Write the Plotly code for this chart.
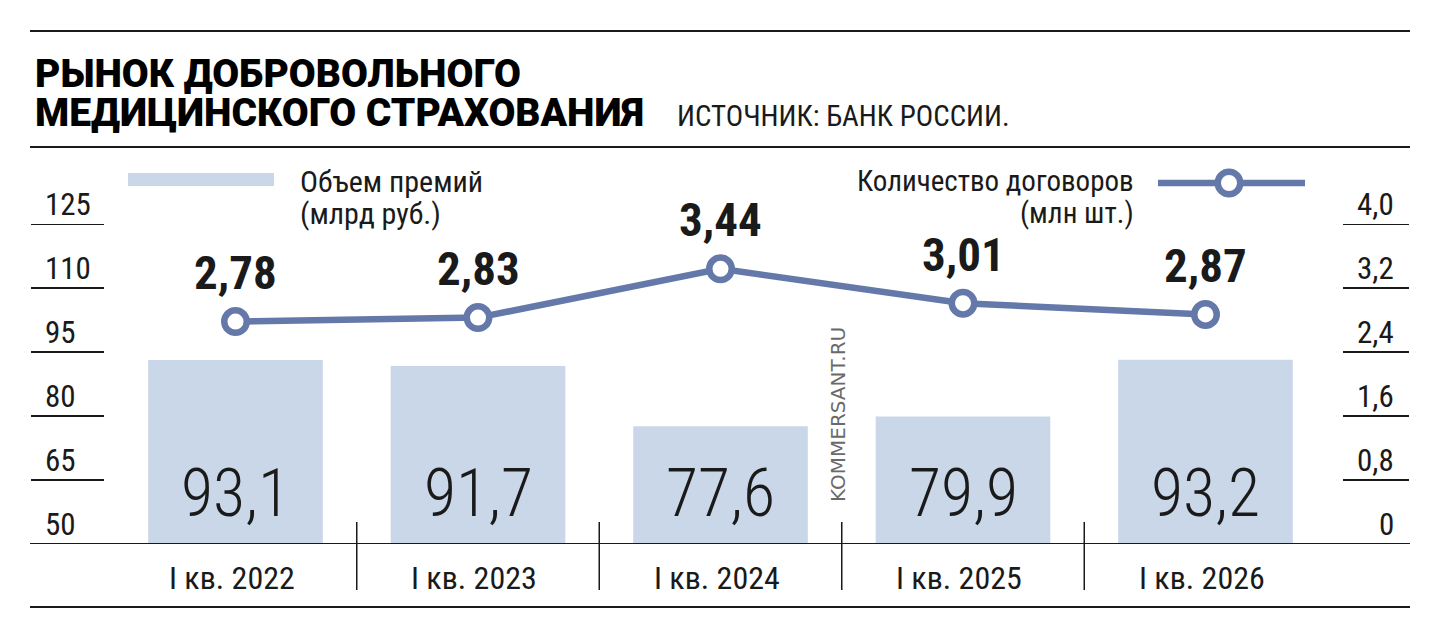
import plotly.graph_objects as go

# ---------------- data ----------------
categories = ["I кв. 2022", "I кв. 2023", "I кв. 2024", "I кв. 2025", "I кв. 2026"]
premiums = [93.1, 91.7, 77.6, 79.9, 93.2]          # млрд руб.
contracts = [2.78, 2.83, 3.44, 3.01, 2.87]         # млн шт.
left_ticks = [50, 65, 80, 95, 110, 125]
right_ticks = [0, 0.8, 1.6, 2.4, 3.2, 4.0]
right_tick_labels = ["0", "0,8", "1,6", "2,4", "3,2", "4,0"]

title_lines = ["РЫНОК ДОБРОВОЛЬНОГО", "МЕДИЦИНСКОГО СТРАХОВАНИЯ"]
source_text = "ИСТОЧНИК: БАНК РОССИИ."
legend_bar = ["Объем премий", "(млрд руб.)"]
legend_line = ["Количество договоров", "(млн шт.)"]

# ---------------- style ----------------
W, H = 1440, 638
BAR_C = "#c9d7e8"
LINE_C = "#6479a9"
INK = "#1a1a1a"
COND = "Roboto Condensed, DejaVu Sans Condensed, sans-serif"


def f_label(size, weight="normal", family=COND, color=INK):
    return dict(family=family, size=size, color=color, weight=weight)


def px_x(x):
    return x / W


def px_y(y):
    return 1 - y / H


fig = go.Figure()

fig.add_trace(go.Bar(
    x=categories, y=premiums, marker=dict(color=BAR_C, line=dict(width=0)),
    width=0.72, yaxis="y", hoverinfo="skip", showlegend=False,
))
fig.add_trace(go.Scatter(
    x=categories, y=contracts, yaxis="y2", mode="lines+markers",
    line=dict(color=LINE_C, width=6.5),
    marker=dict(size=22.5, color="white", line=dict(color=LINE_C, width=6.5)),
    cliponaxis=False, hoverinfo="skip", showlegend=False,
))

annotations = []
shapes = []

# bar value labels
for c, v in zip(categories, premiums):
    annotations.append(dict(
        x=c, y=left_ticks[0], xref="x", yref="y", text=f"{v:.1f}".replace(".", ","),
        showarrow=False, yanchor="middle", yshift=51,
        font=f_label(66, weight=300)))

# line value labels
for c, v in zip(categories, contracts):
    annotations.append(dict(
        x=c, y=v, xref="x", yref="y2", text=f"{v:.2f}".replace(".", ","),
        showarrow=False, yanchor="middle", yshift=49,
        font=f_label(47, weight="bold")))

# category labels
for c in categories:
    annotations.append(dict(
        x=c, y=px_y(578), xref="x", yref="paper", text=c, showarrow=False,
        yanchor="middle", xshift=-4, font=f_label(32)))

# separators between categories
for k in range(len(categories) - 1):
    shapes.append(dict(type="line", xref="x", yref="paper", x0=k + 0.5, x1=k + 0.5,
                       y0=px_y(522), y1=px_y(590), line=dict(color=INK, width=1.5)))

# left axis ticks
for t in left_ticks:
    annotations.append(dict(
        x=px_x(43), y=t, xref="paper", yref="y", text=str(t), showarrow=False,
        xanchor="left", yanchor="bottom", yshift=-1, font=f_label(31)))
    if t != left_ticks[0]:
        shapes.append(dict(type="line", xref="paper", yref="y", x0=px_x(31), x1=px_x(104),
                           y0=t, y1=t, line=dict(color=INK, width=2)))

# right axis ticks
for t, lab in zip(right_ticks, right_tick_labels):
    annotations.append(dict(
        x=px_x(1396), y=t, xref="paper", yref="y2", text=lab, showarrow=False,
        xanchor="right", yanchor="bottom", yshift=-1, font=f_label(31)))
    if t != right_ticks[0]:
        shapes.append(dict(type="line", xref="paper", yref="y2", x0=px_x(1343), x1=px_x(1409),
                           y0=t, y1=t, line=dict(color=INK, width=2)))

# horizontal frame lines
for yy in (31, 147, 607):
    shapes.append(dict(type="line", xref="paper", yref="paper", x0=px_x(30), x1=px_x(1410),
                       y0=px_y(yy), y1=px_y(yy), line=dict(color=INK, width=2)))
shapes.append(dict(type="line", xref="paper", yref="y", x0=px_x(30), x1=px_x(1410),
                   y0=left_ticks[0], y1=left_ticks[0], line=dict(color=INK, width=2)))

# title
title_font = dict(family="Roboto, Noto Sans, sans-serif", size=39, color="black", weight=900)
annotations.append(dict(x=px_x(33), y=px_y(74), xref="paper", yref="paper", text=title_lines[0],
                        showarrow=False, xanchor="left", yanchor="middle", font=title_font))
annotations.append(dict(x=px_x(33), y=px_y(113), xref="paper", yref="paper", text=title_lines[1],
                        showarrow=False, xanchor="left", yanchor="middle", font=title_font))
annotations.append(dict(x=px_x(675), y=px_y(116), xref="paper", yref="paper", text=source_text,
                        showarrow=False, xanchor="left", yanchor="middle", font=f_label(29)))

# legend: bars
shapes.append(dict(type="rect", xref="paper", yref="paper", x0=px_x(128), x1=px_x(274),
                   y0=px_y(186), y1=px_y(173), fillcolor=BAR_C, line=dict(width=0)))
annotations.append(dict(x=px_x(298), y=px_y(181), xref="paper", yref="paper", text=legend_bar[0],
                        showarrow=False, xanchor="left", yanchor="middle", font=f_label(30)))
annotations.append(dict(x=px_x(298), y=px_y(213), xref="paper", yref="paper", text=legend_bar[1],
                        showarrow=False, xanchor="left", yanchor="middle", font=f_label(30)))

# legend: line
shapes.append(dict(type="line", xref="paper", yref="paper", x0=px_x(1158), x1=px_x(1305),
                   y0=px_y(183), y1=px_y(183), line=dict(color=LINE_C, width=6.5)))
r = 11.25
shapes.append(dict(type="circle", xref="paper", yref="paper", x0=px_x(1229 - r), x1=px_x(1229 + r),
                   y0=px_y(183 + r), y1=px_y(183 - r), fillcolor="white",
                   line=dict(color=LINE_C, width=6.5)))
annotations.append(dict(x=px_x(1136), y=px_y(181), xref="paper", yref="paper", text=legend_line[0],
                        showarrow=False, xanchor="right", yanchor="middle", font=f_label(29)))
annotations.append(dict(x=px_x(1136), y=px_y(213), xref="paper", yref="paper", text=legend_line[1],
                        showarrow=False, xanchor="right", yanchor="middle", font=f_label(29)))

# watermark
annotations.append(dict(x=px_x(838), y=px_y(415), xref="paper", yref="paper", text="KOMMERSANT.RU",
                        showarrow=False, textangle=-90, xanchor="center", yanchor="middle",
                        font=f_label(20, family="DejaVu Sans, sans-serif", color="#6a6a6a")))

fig.update_layout(
    width=W, height=H, margin=dict(l=0, r=0, t=0, b=0),
    paper_bgcolor="white", plot_bgcolor="white",
    xaxis=dict(domain=[114.25 / W, 1326.75 / W], range=[-0.5, 4.5], visible=False,
               type="category", fixedrange=True),
    yaxis=dict(domain=[px_y(544), px_y(224)], range=[50, 125], visible=False, fixedrange=True),
    yaxis2=dict(domain=[px_y(544), px_y(224)], range=[0, 4.0], overlaying="y", visible=False,
                fixedrange=True),
    annotations=annotations, shapes=shapes, bargap=0.28,
)

fig.write_html(
    "out.html",
    config={"displayModeBar": False, "staticPlot": True},
    post_script="document.body.style.margin='0';document.body.style.overflow='hidden';",
)
